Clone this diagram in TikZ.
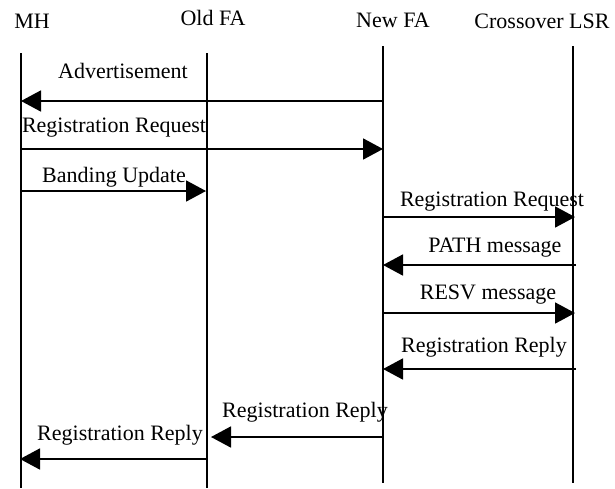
\documentclass[tikz,border=0pt]{standalone}
\usepackage{fontspec}
\setmainfont{Liberation Serif}
\usetikzlibrary{arrows.meta}
\begin{document}
\begin{tikzpicture}[x=1pt,y=-1pt,
  lifeline/.style={line width=1.8pt},
  msg/.style={line width=1.8pt,-{Triangle[length=20pt,width=21pt]}},
  lbl/.style={anchor=base,inner sep=0pt,font=\fontsize{22}{26}\selectfont}]
\useasboundingbox (0,0) rectangle (615,488);
% headers
\node[lbl] (hMH)  at (32,28)  {MH};
\node[lbl] (hOld) at (213,25) {Old FA};
\node[lbl] (hNew) at (393,27) {New FA};
\node[lbl] (hLSR) at (542,28) {Crossover LSR};
% lifeline ends
\coordinate (mhT) at (21,53);   \coordinate (mhB) at (21,488);
\coordinate (ofT) at (207,53);  \coordinate (ofB) at (207,488);
\coordinate (nfT) at (383,46);  \coordinate (nfB) at (383,483);
\coordinate (lsT) at (573,46);  \coordinate (lsB) at (573,483);
\draw[lifeline] (mhT) -- (mhB);
\draw[lifeline] (ofT) -- (ofB);
\draw[lifeline] (nfT) -- (nfB);
\draw[lifeline] (lsT) -- (lsB);
% message end points
\coordinate (a1) at (383,101); \coordinate (b1) at (21,101);
\coordinate (a2) at (21,149);  \coordinate (b2) at (383,149);
\coordinate (a3) at (21,191);  \coordinate (b3) at (206,191);
\coordinate (a4) at (383,217); \coordinate (b4) at (575,217);
\coordinate (a5) at (576,265); \coordinate (b5) at (383,265);
\coordinate (a6) at (383,313); \coordinate (b6) at (575,313);
\coordinate (a7) at (576,369); \coordinate (b7) at (383,369);
\coordinate (a8) at (383,437); \coordinate (b8) at (211,437);
\coordinate (a9) at (207,459); \coordinate (b9) at (20,459);
\draw[msg] (a1) -- (b1);
\draw[msg] (a2) -- (b2);
\draw[msg] (a3) -- (b3);
\draw[msg] (a4) -- (b4);
\draw[msg] (a5) -- (b5);
\draw[msg] (a6) -- (b6);
\draw[msg] (a7) -- (b7);
\draw[msg] (a8) -- (b8);
\draw[msg] (a9) -- (b9);
% labels
\node[lbl] (l1) at (123,78)  {Advertisement};
\node[lbl] (l2) at (114,132) {Registration Request};
\node[lbl] (l3) at (114,182) {Banding Update};
\node[lbl] (l4) at (492,206) {Registration Request};
\node[lbl] (l5) at (495,252) {PATH message};
\node[lbl] (l6) at (488,299) {RESV message};
\node[lbl] (l7) at (484,352) {Registration Reply};
\node[lbl] (l8) at (305,417) {Registration Reply};
\node[lbl] (l9) at (120,440) {Registration Reply};
\end{tikzpicture}
\end{document}
